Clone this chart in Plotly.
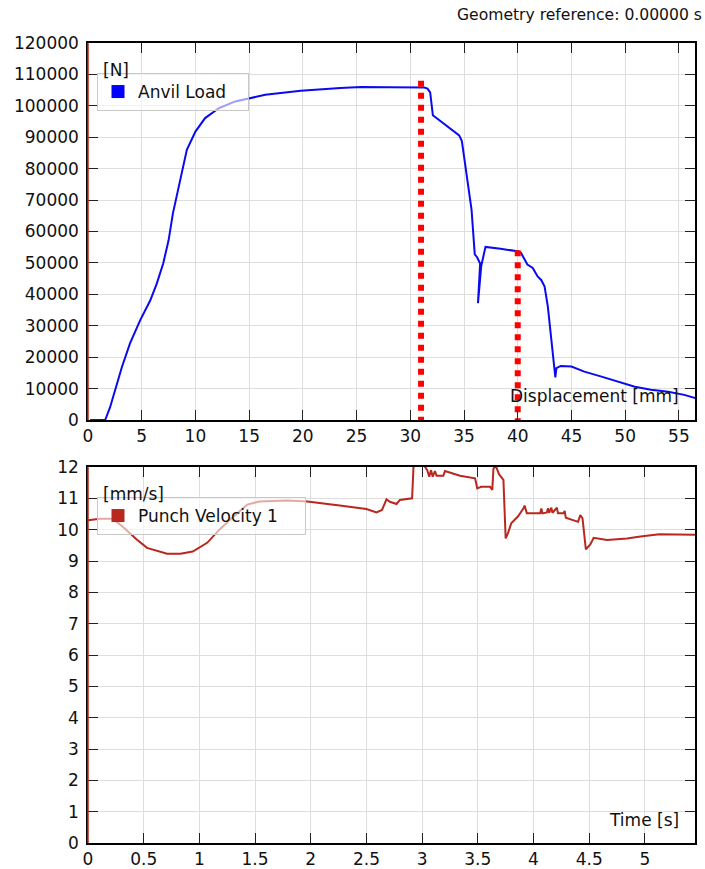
import plotly.graph_objects as go

# ---------------- data ----------------
disp_mm = [0.2, 1.6, 2.05, 2.5, 3.15, 3.9, 4.85, 5.8, 6.4, 7.0, 7.5, 7.9, 8.3, 8.75, 9.2,
           10.0, 10.9, 12.2, 13.7, 16.5, 19.8, 23.5, 25.4, 28.0, 30.0, 31.3, 31.6, 31.85,
           32.1, 32.5, 34.1, 34.55, 34.8, 35.2, 35.7, 36.0, 36.2, 36.5, 36.3, 36.6, 37.0,
           38.4, 40.0, 40.3, 40.9, 41.4, 41.85, 42.2, 42.5, 42.8, 43.1, 43.4, 43.5, 43.6,
           44.0, 45.0, 46.2, 47.8, 49.3, 50.9, 52.4, 54.0, 55.5, 56.6]
anvil_load_N = [0, 0, 4000, 9400, 16800, 24300, 31700, 38100, 43400, 49800, 57200, 65700,
                72100, 79600, 86000, 91800, 96100, 99300, 101400, 103500, 104800, 105700,
                106000, 105900, 105800, 105800, 105500, 104300, 97000, 96000, 92000, 90600,
                88800, 79800, 67000, 52700, 51900, 49800, 37200, 49000, 55100, 54500, 53700,
                53200, 49500, 48400, 45700, 44500, 42500, 36200, 25500, 17000, 13600, 16500,
                17200, 17000, 15400, 13800, 12200, 10600, 9600, 9000, 8000, 6900]

marker_disp = [31.0, 40.0]
marker_load = [108000, 54000]

time_s = [0.0, 0.11, 0.22, 0.31, 0.44, 0.53, 0.71, 0.83, 0.94, 1.07, 1.18, 1.3, 1.43, 1.54,
          1.79, 1.97, 2.26, 2.5, 2.59, 2.64, 2.68, 2.71, 2.77, 2.8, 2.91, 2.93, 3.0, 3.025,
          3.046, 3.064, 3.08, 3.095, 3.115, 3.13, 3.19, 3.205, 3.34, 3.475, 3.495, 3.53,
          3.61, 3.63, 3.64, 3.66, 3.69, 3.73, 3.75, 3.77, 3.8, 3.86, 3.91, 3.92, 3.94,
          4.06, 4.07, 4.08, 4.12, 4.13, 4.14, 4.16, 4.17, 4.21, 4.22, 4.27, 4.28, 4.29,
          4.4, 4.42, 4.44, 4.47, 4.51, 4.54, 4.66, 4.84, 4.96, 5.13, 5.45]
punch_velocity = [10.3, 10.35, 10.35, 10.1, 9.68, 9.42, 9.23, 9.23, 9.3, 9.58, 10.0, 10.4,
                  10.8, 10.9, 10.93, 10.9, 10.77, 10.66, 10.55, 10.63, 10.97, 10.89, 10.82,
                  10.95, 11.0, 12.6, 12.6, 12.01, 11.9, 11.69, 11.9, 11.69, 11.87, 11.72,
                  11.72, 11.87, 11.72, 11.64, 11.32, 11.37, 11.37, 11.27, 11.94, 12.05,
                  11.77, 11.59, 9.72, 9.88, 10.2, 10.42, 10.68, 10.77, 10.52, 10.52, 10.68,
                  10.52, 10.55, 10.68, 10.54, 10.7, 10.54, 10.7, 10.52, 10.52, 10.6, 10.38,
                  10.25, 10.47, 10.36, 9.37, 9.53, 9.74, 9.67, 9.72, 9.78, 9.85, 9.84]

x1_ticks = list(range(0, 60, 5))
y1_ticks = list(range(0, 130000, 10000))
x2_ticks = [0, 0.5, 1, 1.5, 2, 2.5, 3, 3.5, 4, 4.5, 5]
x2_labels = ["0", "0.5", "1", "1.5", "2", "2.5", "3", "3.5", "4", "4.5", "5"]
y2_ticks = list(range(0, 13))

series1_name = "Anvil Load"
series2_name = "Punch Velocity 1"

# ---------------- style ----------------
FONT = "DejaVu Sans"
FS = 17
TXT = "#111111"
BLUE = "#0a0af0"
RED = "#b8281e"
GRID = "#dedede"
W, H = 705, 869
L, R, T, B = 88, 10, 43, 26
PW, PH = W - L - R, H - T - B
NBSP = "\u00a0"


def py(px):  # paper y from pixel
    return (H - B - px) / PH


def pxx(px):
    return (px - L) / PW


fig = go.Figure()

fig.add_trace(go.Scatter(x=disp_mm, y=anvil_load_N, mode="lines",
                         line=dict(color=BLUE, width=2), showlegend=False,
                         xaxis="x", yaxis="y"))
for d, f in zip(marker_disp, marker_load):
    fig.add_trace(go.Scatter(x=[d, d], y=[f, 0], mode="lines",
                             line=dict(color="#ff0000", width=6, dash="6px,6px"),
                             showlegend=False, xaxis="x", yaxis="y"))
fig.add_trace(go.Scatter(x=[None], y=[None], mode="markers", name=series1_name + NBSP * 3,
                         marker=dict(symbol="square", size=13, color="#0000ff"),
                         xaxis="x", yaxis="y", legend="legend"))

fig.add_trace(go.Scatter(x=time_s, y=punch_velocity, mode="lines",
                         line=dict(color=RED, width=2), showlegend=False,
                         xaxis="x2", yaxis="y2"))
fig.add_trace(go.Scatter(x=[None], y=[None], mode="markers", name=series2_name + NBSP * 4,
                         marker=dict(symbol="square", size=13, color=RED),
                         xaxis="x2", yaxis="y2", legend="legend2"))

axis_common = dict(showline=True, linecolor="#000000", linewidth=1.5, mirror="ticks",
                   ticks="inside", ticklen=10, tickcolor="#222222", tickwidth=1,
                   showgrid=True, gridcolor=GRID, gridwidth=1, zeroline=False,
                   automargin=False,
                   tickfont=dict(family=FONT, size=FS, color=TXT))

legend_common = dict(xanchor="left", yanchor="top",
                     bgcolor="rgba(255,255,255,0.6)", bordercolor="#c8c8c8", borderwidth=1,
                     font=dict(family=FONT, size=FS, color=TXT))

fig.update_layout(
    width=W, height=H,
    margin=dict(l=L, r=R, t=T, b=B, autoexpand=False),
    paper_bgcolor="white", plot_bgcolor="white",
    font=dict(family=FONT, size=FS, color=TXT),
    xaxis=dict(domain=[0, 1], anchor="y", range=[0, 56.5], tickvals=x1_ticks, **axis_common),
    yaxis=dict(domain=[py(420), 1], anchor="x", range=[0, 120000], tickvals=y1_ticks,
               tickformat="d", ticklabelstandoff=4, **axis_common),
    xaxis2=dict(domain=[0, 1], anchor="y2", range=[0, 5.45], tickvals=x2_ticks,
                ticktext=x2_labels, **axis_common),
    yaxis2=dict(domain=[0, py(467)], anchor="x2", range=[0, 12], tickvals=y2_ticks,
                ticklabelstandoff=4, **axis_common),
    legend=dict(x=pxx(97), y=py(73), **legend_common),
    legend2=dict(x=pxx(97), y=py(497), **legend_common),
)

# red left axis lines
for xr, yr in (("x domain", "y domain"), ("x2 domain", "y2 domain")):
    fig.add_shape(type="line", xref=xr, yref=yr, x0=0, x1=0, y0=0, y1=1,
                  line=dict(color=RED, width=1.5), layer="above")

ann = [
    dict(text="Geometry reference: 0.00000 s", x=pxx(704), y=py(15), xanchor="right",
         font=dict(size=15.6)),
    dict(text="[N]", x=pxx(101), y=py(70), xanchor="left"),
    dict(text="[mm/s]", x=pxx(101), y=py(494), xanchor="left"),
    dict(text="Displacement [mm]", x=pxx(681), y=py(396), xanchor="right"),
    dict(text="Time [s]", x=pxx(681), y=py(820), xanchor="right"),
]
for a in ann:
    fig.add_annotation(xref="paper", yref="paper", yanchor="middle", showarrow=False,
                       **a)

fig.write_html("out.html", config={"displayModeBar": False},
               post_script="document.body.style.margin='0px';"
                           "document.body.style.padding='0px';"
                           "document.body.style.overflow='hidden';")
